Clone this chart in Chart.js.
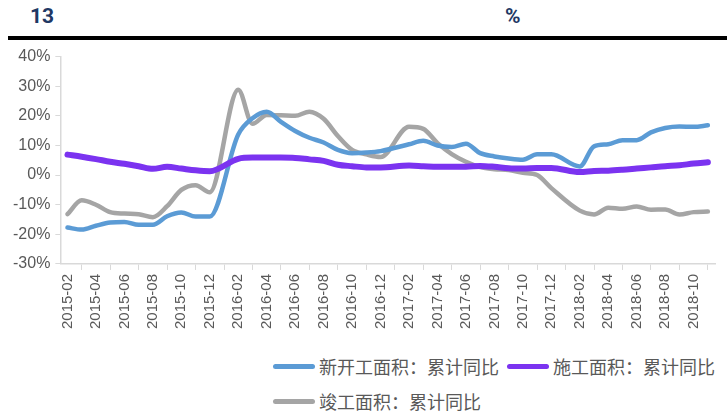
<!DOCTYPE html>
<html>
<head>
<meta charset="utf-8">
<script src="https://cdn.jsdelivr.net/npm/chart.js@4"></script>
<style>
  body { margin: 0; background: #fff; width: 727px; height: 417px; overflow: hidden; position: relative; font-family: "Noto Sans CJK SC", sans-serif; }
  .ttl { position: absolute; top: 4px; font: bold 21px Roboto, sans-serif; color: #1f3864; }
  .rule { position: absolute; left: 8px; right: 0; top: 36px; height: 4px; background: #000; }
  #wrap { position: absolute; left: 0; top: 42px; width: 727px; height: 291px; }
  .leg { position: absolute; font-size: 18px; line-height: 24px; color: #595959; display: flex; align-items: center; }
  .leg i { display: inline-block; width: 42px; height: 5px; border-radius: 3px; margin-right: 4px; }
</style>
</head>
<body>
<div class="ttl" style="left:30px">13</div>
<div class="ttl" style="left:505px">%</div>
<div class="rule"></div>
<div id="wrap"><canvas id="c"></canvas></div>
<div class="leg" style="left:273px; top:354px"><i style="background:#5b9bd5"></i>新开工面积：累计同比</div>
<div class="leg" style="left:507px; top:354px"><i style="background:#7b33f0"></i>施工面积：累计同比</div>
<div class="leg" style="left:273px; top:389px"><i style="background:#a5a5a5"></i>竣工面积：累计同比</div>
<script>
var months = [
  "2015-02","2015-03","2015-04","2015-05","2015-06","2015-07","2015-08","2015-09","2015-10","2015-11","2015-12",
  "2016-01","2016-02","2016-03","2016-04","2016-05","2016-06","2016-07","2016-08","2016-09","2016-10","2016-11","2016-12",
  "2017-01","2017-02","2017-03","2017-04","2017-05","2017-06","2017-07","2017-08","2017-09","2017-10","2017-11","2017-12",
  "2018-01","2018-02","2018-03","2018-04","2018-05","2018-06","2018-07","2018-08","2018-09","2018-10","2018-11"
];

// 累计同比, %; 1月无单独数据
var xinKaiGong = [
  -17.7, -18.4, -17.1, -16.0, -15.8, -16.8, -16.8, -13.9, -12.6, -14.0, -14.0,
  null, 13.7, 19.2, 21.4, 18.0, 14.9, 12.6, 11.0, 8.5, 7.4, 7.6, 8.1,
  null, 10.4, 11.6, 10.0, 9.5, 10.6, 7.4, 6.3, 5.6, 5.2, 7.0, 7.0,
  null, 2.9, 9.7, 10.4, 11.8, 11.8, 14.4, 15.9, 16.4, 16.3, 16.8
];
var shiGong = [
  6.9, 6.2, 5.4, 4.5, 3.8, 3.0, 2.1, 2.8, 2.2, 1.6, 1.3,
  null, 5.5, 5.9, 5.9, 5.9, 5.8, 5.3, 4.8, 3.5, 3.0, 2.6, 2.6,
  null, 3.2, 3.0, 2.8, 2.8, 2.8, 3.1, 2.8, 2.3, 2.2, 2.4, 2.4,
  null, 1.0, 1.4, 1.5, 1.8, 2.2, 2.6, 3.0, 3.3, 3.9, 4.3
];
var junGong = [
  -13.2, -8.5, -10.0, -12.5, -13.0, -13.2, -14.2, -10.5, -5.0, -3.4, -5.8,
  null, 28.8, 17.3, 20.3, 20.2, 20.0, 21.4, 19.0, 13.2, 8.5, 7.0, 6.1,
  null, 16.3, 15.6, 10.8, 7.1, 4.5, 2.7, 2.0, 1.7, 0.8, 0.0, -4.4,
  null, -12.0, -13.3, -11.0, -11.4, -10.6, -11.7, -11.6, -13.3, -12.5, -12.3
];

var ctx = document.getElementById("c").getContext("2d");
var numFont = "'Liberation Sans', Arial, sans-serif";

new Chart(ctx, {
  type: "line",
  data: {
    labels: months,
    datasets: [
      { label: "新开工面积：累计同比", data: xinKaiGong, borderColor: "#5b9bd5", borderWidth: 4.5, order: 1 },
      { label: "施工面积：累计同比", data: shiGong, borderColor: "#7b33f0", borderWidth: 6, order: 0 },
      { label: "竣工面积：累计同比", data: junGong, borderColor: "#a5a5a5", borderWidth: 4.5, order: 2 }
    ]
  },
  options: {
    responsive: true,
    maintainAspectRatio: false,
    animation: false,
    spanGaps: true,
    layout: { padding: { left: 8, right: 12, top: 14, bottom: 0 } },
    elements: {
      point: { radius: 0 },
      line: { cubicInterpolationMode: "monotone", borderCapStyle: "round", borderJoinStyle: "round" }
    },
    plugins: { legend: { display: false }, tooltip: { enabled: false } },
    scales: {
      x: {
        offset: true,
        border: { color: "#d9d9d9", width: 1.5 },
        grid: { display: true, drawOnChartArea: false, offset: true, color: "#d9d9d9", tickLength: 6 },
        ticks: {
          autoSkip: false,
          maxRotation: 90,
          minRotation: 90,
          padding: 4,
          color: "#595959",
          font: { family: numFont, size: 15 },
          callback: function (v, i) { return i % 2 === 0 ? months[i] : null; }
        }
      },
      y: {
        min: -30,
        max: 40,
        border: { color: "#d9d9d9", width: 1.5 },
        grid: { display: true, drawOnChartArea: false, color: "#d9d9d9", tickLength: 5 },
        ticks: {
          stepSize: 10,
          color: "#595959",
          font: { family: numFont, size: 16 },
          padding: 5,
          callback: function (v) { return v + "%"; }
        }
      }
    }
  }
});
</script>
</body>
</html>
